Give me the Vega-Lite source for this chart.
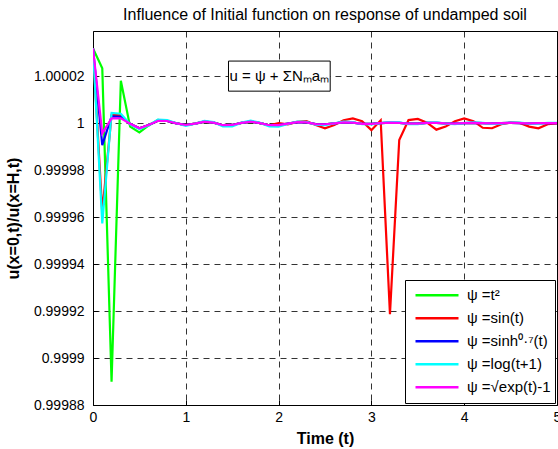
{
  "$schema": "https://vega.github.io/schema/vega-lite/v6.json",
  "autosize": {"type": "none"},
  "padding": {"left": 93, "top": 31, "right": 1, "bottom": 44},
  "width": 464,
  "height": 374,
  "title": {"text": "Influence of Initial function on response of undamped soil", "fontSize": 16, "fontWeight": "normal", "color": "black", "offset": 8, "anchor": "middle"},
  "config": {
    "font": "Liberation Sans",
    "view": {"stroke": "black", "strokeWidth": 1},
    "axis": {"labelFontSize": 14, "labelColor": "black", "titleFontSize": 16, "titleFontWeight": "bold", "titleColor": "black", "gridColor": "black", "gridDash": [6, 5], "gridOpacity": 0.8, "domain": false, "tickColor": "black", "tickSize": -5, "labelFont": "Liberation Sans", "titleFont": "Liberation Sans"}
  },
  "layer": [
    {
      "data": {"values": [
        {"t":0,"g":1.0000318,"r":1.0000318,"b":1.0000318,"c":1.0000318,"m":1.0000318},
        {"t":0.1,"g":1.0000233,"r":0.999962,"b":0.9999906,"c":0.9999573,"m":0.9999956},
        {"t":0.2,"g":0.9998899,"r":1.0000035,"b":1.0000029,"c":1.0000043,"m":1.000002},
        {"t":0.3,"g":1.000018,"r":1.0000033,"b":1.0000027,"c":1.000004,"m":1.000002},
        {"t":0.4,"g":0.9999985,"r":0.9999996,"b":0.9999997,"c":0.9999995,"m":0.9999997},
        {"t":0.5,"g":0.999996,"r":0.9999978,"b":0.9999978,"c":0.9999975,"m":0.9999978},
        {"t":0.6,"g":0.999999,"r":0.9999992,"b":0.9999992,"c":0.999999,"m":0.9999992},
        {"t":0.7,"g":1.0000014,"r":1.000001,"b":1.000001,"c":1.0000015,"m":1.000001},
        {"t":0.8,"g":1.0000009,"r":1.0000009,"b":1.0000009,"c":1.0000013,"m":1.0000009},
        {"t":0.9,"g":0.9999999,"r":0.9999999,"b":0.9999999,"c":0.9999999,"m":0.9999999},
        {"t":1.0,"g":0.9999992,"r":0.9999992,"b":0.9999992,"c":0.9999988,"m":0.9999992},
        {"t":1.1,"g":0.9999998,"r":0.9999998,"b":0.9999998,"c":0.9999997,"m":0.9999998},
        {"t":1.2,"g":1.0000006,"r":1.0000006,"b":1.0000006,"c":1.0000009,"m":1.0000006},
        {"t":1.3,"g":1.0000002,"r":1.0000002,"b":1.0000002,"c":1.0000004,"m":1.0000002},
        {"t":1.4,"g":0.9999991,"r":0.9999991,"b":0.9999991,"c":0.9999986,"m":0.9999991},
        {"t":1.5,"g":0.9999992,"r":0.9999992,"b":0.9999992,"c":0.9999986,"m":0.9999992},
        {"t":1.6,"g":1.0000001,"r":1.0000001,"b":1.0000001,"c":1.0000002,"m":1.0000001},
        {"t":1.7,"g":1.0000006,"r":1.0000006,"b":1.0000006,"c":1.000001,"m":1.0000006},
        {"t":1.8,"g":1.0,"r":1.0,"b":1.0,"c":1.0000001,"m":1.0},
        {"t":1.9,"g":0.9999991,"r":0.9999991,"b":0.9999991,"c":0.9999986,"m":0.9999991},
        {"t":2.0,"g":0.9999991,"r":1.0,"b":0.9999991,"c":0.9999985,"m":0.9999991},
        {"t":2.1,"g":0.9999998,"r":0.9999995,"b":0.9999998,"c":0.9999996,"m":0.9999998},
        {"t":2.2,"g":1.0000004,"r":1.0000005,"b":1.0000004,"c":1.0000006,"m":1.0000004},
        {"t":2.3,"g":1.0000003,"r":1.0000008,"b":1.0000003,"c":1.0000005,"m":1.0000003},
        {"t":2.4,"g":0.9999996,"r":0.9999992,"b":0.9999996,"c":0.9999993,"m":0.9999996},
        {"t":2.5,"g":0.9999995,"r":0.9999978,"b":0.9999995,"c":0.9999991,"m":0.9999995},
        {"t":2.6,"g":0.9999999,"r":0.9999992,"b":0.9999999,"c":0.9999999,"m":0.9999999},
        {"t":2.7,"g":1.0000003,"r":1.0000012,"b":1.0000003,"c":1.0000006,"m":1.0000003},
        {"t":2.8,"g":1.0000002,"r":1.000002,"b":1.0000002,"c":1.0000004,"m":1.0000002},
        {"t":2.9,"g":0.9999997,"r":1.0000008,"b":0.9999997,"c":0.9999995,"m":0.9999997},
        {"t":3.0,"g":0.9999997,"r":0.999997,"b":0.9999997,"c":0.9999994,"m":0.9999997},
        {"t":3.1,"g":1.0,"r":1.0000012,"b":1.0,"c":1.0,"m":1.0},
        {"t":3.2,"g":1.0000002,"r":0.9999187,"b":1.0000002,"c":1.0000004,"m":1.0000002},
        {"t":3.3,"g":1.0000001,"r":0.9999928,"b":1.0000001,"c":1.0000003,"m":1.0000001},
        {"t":3.4,"g":0.9999998,"r":1.0000013,"b":0.9999998,"c":0.9999996,"m":0.9999998},
        {"t":3.5,"g":0.9999998,"r":1.0000018,"b":0.9999998,"c":0.9999995,"m":0.9999998},
        {"t":3.6,"g":1.0000001,"r":1.0000002,"b":1.0000001,"c":1.0000002,"m":1.0000001},
        {"t":3.7,"g":1.0000001,"r":0.9999972,"b":1.0000001,"c":1.0000003,"m":1.0000001},
        {"t":3.8,"g":0.9999999,"r":0.9999985,"b":0.9999999,"c":0.9999998,"m":0.9999999},
        {"t":3.9,"g":0.9999998,"r":1.0000008,"b":0.9999998,"c":0.9999996,"m":0.9999998},
        {"t":4.0,"g":1.0,"r":1.000002,"b":1.0,"c":1.0,"m":1.0},
        {"t":4.1,"g":1.0000001,"r":1.0000008,"b":1.0000001,"c":1.0000003,"m":1.0000001},
        {"t":4.2,"g":1.0,"r":0.999998,"b":1.0,"c":1.0000001,"m":1.0},
        {"t":4.3,"g":0.9999999,"r":0.9999978,"b":0.9999999,"c":0.9999997,"m":0.9999999},
        {"t":4.4,"g":1.0,"r":0.9999995,"b":1.0,"c":0.9999998,"m":1.0},
        {"t":4.5,"g":1.0000001,"r":1.0000002,"b":1.0000001,"c":1.0000002,"m":1.0000001},
        {"t":4.6,"g":1.0,"r":1.0000001,"b":1.0,"c":1.0000002,"m":1.0},
        {"t":4.7,"g":0.9999999,"r":0.9999985,"b":0.9999999,"c":0.9999998,"m":0.9999999},
        {"t":4.8,"g":1.0,"r":0.9999978,"b":1.0,"c":0.9999998,"m":1.0},
        {"t":4.9,"g":1.0,"r":0.9999995,"b":1.0,"c":1.0000001,"m":1.0},
        {"t":5.0,"g":1.0,"r":0.9999999,"b":1.0,"c":1.0000001,"m":1.0}
      ]},
      "transform": [{"fold": ["g", "r", "b", "c", "m"], "as": ["series", "v"]}],
      "mark": {"type": "line", "strokeWidth": 2.2, "clip": true},
      "encoding": {
        "x": {"field": "t", "type": "quantitative", "scale": {"domain": [0, 5], "nice": false, "zero": false},
              "axis": {"values": [0, 1, 2, 3, 4, 5], "format": "d", "title": "Time (t)", "labelPadding": 10, "titleX": 232, "titleY": 33, "titleBaseline": "middle", "labelFlush": false}},
        "y": {"field": "v", "type": "quantitative", "scale": {"domain": [0.99988, 1.0000392], "nice": false, "zero": false},
              "axis": {"values": [0.99988, 0.9999, 0.99992, 0.99994, 0.99996, 0.99998, 1, 1.00002], "format": ".6~g", "title": "u(x=0,t)/u(x=H,t)", "labelPadding": 14, "titleX": -80, "titleY": 187, "titleAngle": -90, "titleAlign": "center", "titleBaseline": "middle"}},
        "color": {"field": "series", "type": "nominal",
          "scale": {"domain": ["g", "r", "b", "c", "m"], "range": ["#00ff00", "#ff0000", "#0000ff", "#00ffff", "#ff00ff"]},
          "legend": {"orient": "none", "legendX": 312, "legendY": 249, "title": null, "symbolType": "stroke", "symbolSize": 1849, "symbolStrokeWidth": 2.5, "clipHeight": 22.5, "rowPadding": 0, "padding": 4, "labelFontSize": 15, "labelColor": "black", "labelOffset": 7, "symbolOffset": 5, "strokeColor": "black", "fillColor": "white", "cornerRadius": 0, "labelLimit": 300,
            "labelExpr": "datum.label == 'g' ? 'ψ =t²' : datum.label == 'r' ? 'ψ =sin(t)' : datum.label == 'b' ? 'ψ =sinh⁰·⁷(t)' : datum.label == 'c' ? 'ψ =log(t+1)' : 'ψ =√exp(t)-1\u2002\u2002'"}}
      }
    },
    {
      "data": {"values": [{}]},
      "mark": {"type": "rect", "fill": "white", "stroke": "black", "strokeWidth": 1},
      "encoding": {
        "x": {"datum": 1.46, "type": "quantitative"},
        "x2": {"datum": 2.556},
        "y": {"datum": 1.0000136, "type": "quantitative"},
        "y2": {"datum": 1.0000264}
      }
    },
    {
      "data": {"values": [{"label": "u = ψ + ΣNₘaₘ"}]},
      "mark": {"type": "text", "fontSize": 15, "color": "black", "align": "center", "baseline": "middle"},
      "encoding": {
        "x": {"datum": 2.008, "type": "quantitative"},
        "y": {"datum": 1.00002, "type": "quantitative"},
        "text": {"field": "label"}
      }
    }
  ]
}
